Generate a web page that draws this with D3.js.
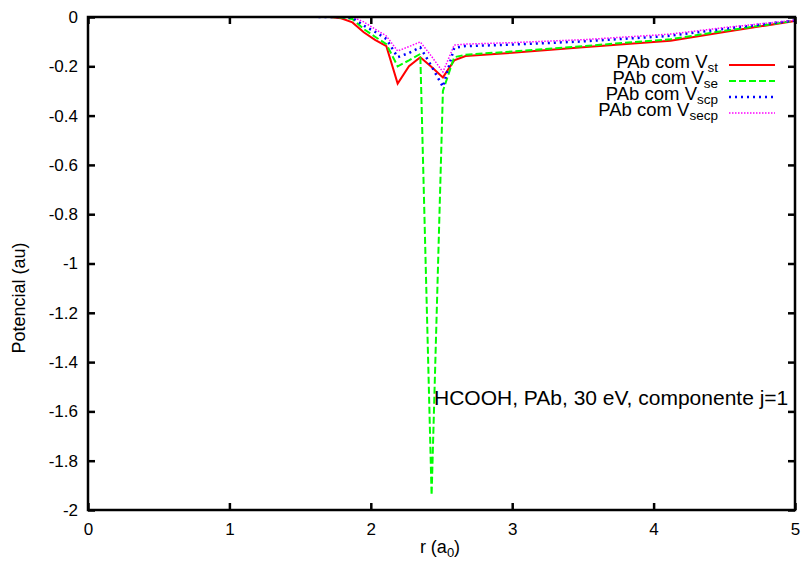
<!DOCTYPE html>
<html>
<head>
<meta charset="utf-8">
<script src="https://cdn.jsdelivr.net/npm/d3@7"></script>
<style>
  body { margin: 0; background: #fff; }
  text { font-family: "Liberation Sans", Arial, sans-serif; fill: #000; }
</style>
</head>
<body>
<svg id="chart"></svg>
<script>
// r grid (a0) and potentials (au)
const rVals = [1.63, 1.71, 1.79, 1.87, 1.95, 2.03, 2.11, 2.19, 2.27, 2.35, 2.43, 2.51, 2.59, 2.67, 3.0, 3.5, 4.0, 4.12, 4.5, 5.0];
const vSt   = [0, 0, -0.005, -0.022, -0.062, -0.093, -0.118, -0.27, -0.2, -0.163, -0.203, -0.245, -0.176, -0.158, -0.145, -0.123, -0.101, -0.096, -0.061, -0.016];
const vSe   = [0, 0, -0.002, -0.008, -0.049, -0.08, -0.11, -0.2, -0.176, -0.15, -1.94, -0.3, -0.163, -0.153, -0.14, -0.118, -0.096, -0.09, -0.056, -0.015];
const vScp  = [0, 0, 0, -0.003, -0.035, -0.06, -0.089, -0.163, -0.146, -0.123, -0.2, -0.283, -0.125, -0.118, -0.112, -0.099, -0.081, -0.076, -0.048, -0.014];
const vSecp = [0, 0, 0, 0, -0.02, -0.049, -0.077, -0.138, -0.12, -0.101, -0.16, -0.223, -0.114, -0.11, -0.104, -0.092, -0.074, -0.069, -0.043, -0.013];

const seriesNames = ["st", "se", "scp", "secp"];
const seriesColors = ["#ff0000", "#00ff00", "#0000ff", "#ff00ff"];
const seriesDash = [null, "7,3", "2,4", "1.5,1.5"];
const seriesWidth = [2, 2, 2.5, 1.5];
const seriesData = [vSt, vSe, vScp, vSecp];

const xTicks = [0, 1, 2, 3, 4, 5];
const yTicks = [0, -0.2, -0.4, -0.6, -0.8, -1, -1.2, -1.4, -1.6, -1.8, -2];

const width = 803, height = 563;
const margin = { top: 17, right: 8, bottom: 53, left: 88 };

const svg = d3.select("#chart").attr("width", width).attr("height", height);

const x = d3.scaleLinear().domain([0, 5]).range([margin.left, width - margin.right]);
const y = d3.scaleLinear().domain([-2, 0]).range([height - margin.bottom, margin.top]);

const fmt = d => String(+d.toFixed(1));

// clip
svg.append("defs").append("clipPath").attr("id", "clip")
  .append("rect")
  .attr("x", margin.left).attr("y", margin.top)
  .attr("width", x(5) - x(0)).attr("height", y(-2) - y(0));

// curves
const line = d3.line().x(d => x(d[0])).y(d => y(d[1]));
const curves = svg.append("g").attr("clip-path", "url(#clip)");
seriesData.forEach((vals, i) => {
  curves.append("path")
    .datum(rVals.map((r, k) => [r, vals[k]]))
    .attr("d", line)
    .attr("fill", "none")
    .attr("stroke", seriesColors[i])
    .attr("stroke-width", seriesWidth[i])
    .attr("stroke-dasharray", seriesDash[i]);
});

// axes (inward ticks, mirrored)
const tickLen = 7;
const styleAxis = g => {
  g.select(".domain").remove();
  g.selectAll("line").attr("stroke", "#000").attr("stroke-width", 2.5);
  g.selectAll("text").attr("fill", "#000").style("font-size", "17px")
    .style("font-family", '"Liberation Sans", Arial, sans-serif');
};

svg.append("g")
  .attr("transform", `translate(0,${y(-2)})`)
  .call(d3.axisBottom(x).tickValues(xTicks).tickFormat(fmt).tickSizeInner(-tickLen).tickSizeOuter(0).tickPadding(13))
  .call(styleAxis);

svg.append("g")
  .attr("transform", `translate(${x(0)},0)`)
  .call(d3.axisLeft(y).tickValues(yTicks).tickFormat(fmt).tickSizeInner(-tickLen).tickSizeOuter(0).tickPadding(10))
  .call(styleAxis);

svg.append("g")
  .attr("transform", `translate(0,${y(0)})`)
  .call(d3.axisTop(x).tickValues(xTicks).tickFormat("").tickSizeInner(-tickLen).tickSizeOuter(0))
  .call(styleAxis);

svg.append("g")
  .attr("transform", `translate(${x(5)},0)`)
  .call(d3.axisRight(y).tickValues(yTicks).tickFormat("").tickSizeInner(-tickLen).tickSizeOuter(0))
  .call(styleAxis);

// frame
svg.append("rect")
  .attr("x", x(0)).attr("y", y(0))
  .attr("width", x(5) - x(0)).attr("height", y(-2) - y(0))
  .attr("fill", "none").attr("stroke", "#000").attr("stroke-width", 2.5);

// axis labels
const xl = svg.append("text")
  .attr("x", 440).attr("y", 553)
  .attr("text-anchor", "middle")
  .style("font-size", "18px");
xl.append("tspan").text("r (a");
xl.append("tspan").attr("dy", 4).style("font-size", "13px").text("0");
xl.append("tspan").attr("dy", -4).text(")");

svg.append("text")
  .attr("transform", "translate(25,298) rotate(-90)")
  .attr("text-anchor", "middle")
  .style("font-size", "18px")
  .text("Potencial (au)");

// legend
const legend = svg.append("g");
seriesNames.forEach((name, i) => {
  const ly = 65 + i * 16;
  const t = legend.append("text")
    .attr("x", 718).attr("y", ly + 3)
    .attr("text-anchor", "end")
    .style("font-size", "18.5px");
  t.append("tspan").text("PAb com V");
  t.append("tspan").attr("dy", 4).style("font-size", "13.5px").text(name);
  legend.append("line")
    .attr("x1", 729).attr("x2", 775)
    .attr("y1", ly).attr("y2", ly)
    .attr("stroke", seriesColors[i])
    .attr("stroke-width", seriesWidth[i])
    .attr("stroke-dasharray", seriesDash[i]);
});

// annotation
svg.append("text")
  .attr("x", 434).attr("y", 405)
  .style("font-size", "21px")
  .text("HCOOH, PAb, 30 eV, componente j=1");
</script>
</body>
</html>
